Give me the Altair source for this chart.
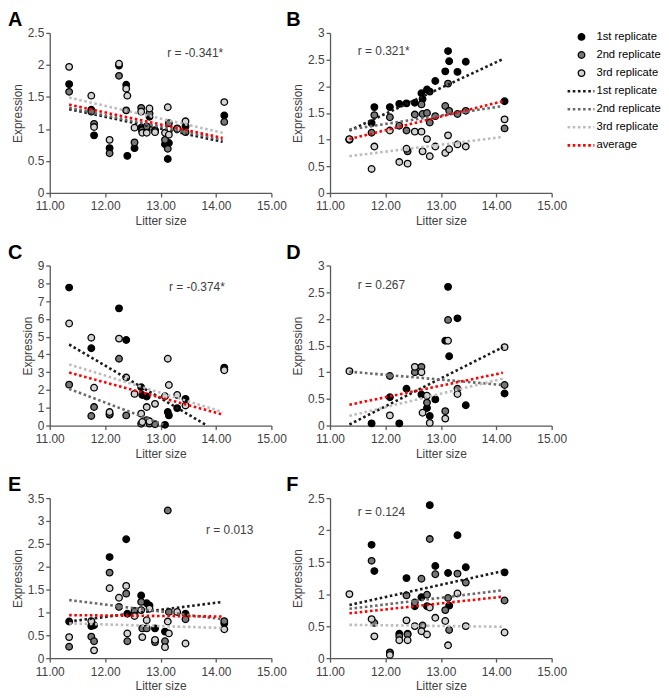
import altair as alt
import pandas as pd

FONT = "Liberation Sans"
TXT = "#404040"
AXC = "#595959"

# litter size (x) of each animal group
X = [11.35, 11.75, 11.80, 12.08, 12.25, 12.38, 12.40, 12.53, 12.65, 12.67,
     12.75, 12.80, 12.90, 13.08, 13.13, 13.15, 13.30, 13.45, 14.15]
X_TICKS = [11, 12, 13, 14, 15]

REPS = ["1st replicate", "2nd replicate", "3rd replicate"]
POINT_FILLS = ["#000000", "#777777", "#d3d3d3"]
LINE_SERIES = ["1st replicate ", "2nd replicate ", "3rd replicate ", "average"]
LINE_COLORS = ["#1a1a1a", "#6a6a6a", "#bdbdbd", "#ff0000"]

N = None
# Panel A
A_R1 = [1.70, 1.30, 0.90, 0.70, 1.99, 1.69, 0.58, 0.70, 1.02, 0.97, 0.99, 1.19, 0.98, 0.76, 0.53, 0.78, 1.00, 1.04, 1.21]
A_R2 = [1.58, 1.27, 1.08, 0.62, 1.83, 1.29, N, 0.79, 1.33, 0.98, 1.04, 1.24, 0.97, 0.83, 0.69, 1.09, 1.01, 0.95, 1.11]
A_R3 = [1.97, 1.52, 1.03, 0.83, 2.02, 1.63, 1.52, 1.02, 1.27, 0.94, 0.94, 1.32, 0.95, 0.94, 1.34, 0.91, 1.00, 1.12, 1.42]
# Panel B
B_R1 = [1.00, 1.31, 1.61, 1.61, 1.67, 1.68, N, 1.69, 1.87, 1.76, 1.94, 1.90, 2.10, 2.28, 2.66, 2.47, 2.27, 2.46, 1.72]
B_R2 = [1.00, 1.13, 1.46, 1.42, 1.26, 1.17, 0.78, 1.47, 1.66, 1.48, 1.50, 1.32, 1.44, 1.63, 2.05, 1.54, 1.48, 1.54, 1.21]
B_R3 = [1.01, 0.45, 0.87, 1.17, 0.58, 0.83, 0.55, 1.15, 1.15, 0.78, 1.01, 0.69, 0.87, 0.75, 1.08, 0.82, 0.91, 0.87, 1.38]
# Panel C
C_R1 = [7.76, 4.35, N, 0.61, 6.59, 4.81, N, N, 2.15, 1.72, 1.63, 0.20, N, 0.04, 0.76, 0.57, 0.98, 1.50, 3.26]
C_R2 = [2.30, 0.54, 1.04, 0.65, 3.76, 0.57, N, N, 0.10, N, 0.30, 0.11, 0.07, N, N, N, N, N, 3.17]
C_R3 = [5.74, 4.94, 2.13, 0.76, 4.89, 2.70, N, 1.78, 0.67, 0.20, 1.04, 0.24, 1.22, 1.65, 3.76, 2.28, 1.72, 1.13, 3.11]
# Panel D
D_R1 = [N, 0.04, N, 0.53, 0.04, 0.69, N, N, 0.58, N, 0.33, 0.18, 0.49, 1.59, 2.60, 1.30, 2.01, 0.38, 0.60]
D_R2 = [N, N, N, 0.93, N, N, N, 1.00, 1.10, N, 0.43, N, N, 0.27, 1.98, N, 0.69, N, 0.76]
D_R3 = [1.02, N, N, 0.19, N, N, N, 1.10, 1.00, 0.24, 0.56, 0.05, N, 0.13, 1.59, N, 0.59, N, 1.47]
# Panel E
E_R1 = [0.80, 0.70, 0.72, 2.21, N, 2.60, 0.97, N, 1.37, N, 1.20, 1.15, 0.65, 0.58, N, N, N, 0.97, 0.76]
E_R2 = [0.25, 0.47, 0.37, 1.87, 1.12, 1.41, 0.37, 1.03, 1.23, 0.65, 0.65, N, 0.35, 0.37, 3.23, 1.01, N, 0.85, 0.81]
E_R3 = [0.46, 0.81, 0.17, 1.53, 1.32, 1.58, 0.54, 0.92, 1.05, 0.46, 0.83, 1.08, 0.40, 0.24, 0.80, 0.54, 1.01, 0.32, 0.63]
# Panel F
F_R1 = [N, 1.77, 1.36, 0.09, 0.38, 1.25, 0.38, 0.81, 0.95, N, 0.81, 2.39, 1.44, N, 1.33, 0.82, 1.92, 1.42, 1.34]
F_R2 = [N, 1.52, 0.55, 0.08, 0.34, 0.98, 0.37, 0.87, 1.24, 0.51, 0.99, 1.86, 1.31, 0.75, 0.94, 0.44, 1.32, 1.18, 0.90]
F_R3 = [1.00, 0.61, 0.34, 0.05, 0.28, 0.59, 0.28, 0.50, 0.42, N, 0.37, 0.79, 0.63, 0.58, 0.20, N, 1.01, 0.50, 0.40]

# trend lines: [x0, y0, x1, y1] for 1st, 2nd, 3rd replicate, average
A_LINES = [[11.35, 1.31, 14.12, 0.80], [11.35, 1.33, 14.12, 0.83], [11.35, 1.49, 14.12, 0.94], [11.35, 1.38, 14.12, 0.86]]
B_LINES = [[11.35, 1.17, 14.12, 2.51], [11.35, 1.19, 14.12, 1.63], [11.35, 0.69, 14.12, 1.05], [11.35, 1.01, 14.12, 1.72]]
C_LINES = [[11.35, 4.56, 13.84, 0.00], [11.35, 2.06, 13.10, 0.00], [11.35, 3.44, 14.12, 0.76], [11.35, 2.98, 14.12, 0.62]]
D_LINES = [[11.35, 0.02, 14.12, 1.47], [11.35, 1.01, 14.12, 0.76], [11.35, 0.18, 14.12, 0.88], [11.35, 0.39, 14.12, 0.99]]
E_LINES = [[11.35, 0.80, 14.12, 1.23], [11.35, 1.27, 14.12, 0.85], [11.35, 0.76, 14.12, 0.66], [11.35, 0.94, 14.12, 0.91]]
F_LINES = [[11.35, 0.83, 14.12, 1.36], [11.35, 0.77, 14.12, 1.06], [11.35, 0.52, 14.12, 0.49], [11.35, 0.70, 14.12, 0.96]]

R_TEXT = ["r = -0.341*", "r = 0.321*", "r = -0.374*", "r = 0.267", "r = 0.013", "r = 0.124"]
R_X = [13.12, 11.50, 13.15, 11.50, 13.82, 11.50]
R_Y = [2.19, 2.67, 7.78, 2.63, 2.81, 2.28]

Y_MAX = [2.5, 3, 9, 3, 3.5, 2.5]
Y_TICKS = [
    [0, 0.5, 1, 1.5, 2, 2.5],
    [0, 0.5, 1, 1.5, 2, 2.5, 3],
    [0, 1, 2, 3, 4, 5, 6, 7, 8, 9],
    [0, 0.5, 1, 1.5, 2, 2.5, 3],
    [0, 0.5, 1, 1.5, 2, 2.5, 3, 3.5],
    [0, 0.5, 1, 1.5, 2, 2.5],
]
LETTERS = ["A", "B", "C", "D", "E", "F"]
REP_DATA = [(A_R1, A_R2, A_R3), (B_R1, B_R2, B_R3), (C_R1, C_R2, C_R3),
            (D_R1, D_R2, D_R3), (E_R1, E_R2, E_R3), (F_R1, F_R2, F_R3)]
LINES = [A_LINES, B_LINES, C_LINES, D_LINES, E_LINES, F_LINES]

# legend entries (shown beside panel B)
LEG_LABELS = REPS + LINE_SERIES
LEG_INDEX = [0, 1, 2, 3, 4, 5, 6]

W, H = 223, 161
PT_SIZE = 44


def fill_scale():
    return alt.Scale(domain=REPS, range=POINT_FILLS)


def panel(i, dx):
    rows = []
    for rep, vals in zip(REPS, REP_DATA[i]):
        for xv, yv in zip(X, vals):
            if yv is not None:
                rows.append({"x": xv, "y": yv, "rep": rep})
    pts = pd.DataFrame(rows)

    def xenc():
        return alt.X("x:Q", scale=alt.Scale(domain=[11, 15], nice=False, zero=False),
                     axis=alt.Axis(values=X_TICKS, format=".2f", title="Litter size",
                                   labelFlush=False, labelPadding=4, titlePadding=4))

    def yenc():
        return alt.Y("y:Q", scale=alt.Scale(domain=[0, Y_MAX[i]], nice=False, zero=True),
                     axis=alt.Axis(values=Y_TICKS[i], format=".1~f", title="Expression"))

    layers = [
        alt.Chart(pts).mark_point(shape="circle", filled=True, size=PT_SIZE, opacity=1,
                                  stroke="black", strokeWidth=1.3).encode(
            x=xenc(), y=yenc(),
            fill=alt.Fill("rep:N", scale=fill_scale(), legend=None))
    ]
    for col, seg in zip(LINE_COLORS, LINES[i]):
        ldf = pd.DataFrame({"x": [seg[0], seg[2]], "y": [seg[1], seg[3]]})
        layers.append(alt.Chart(ldf).mark_line(color=col, strokeWidth=2.6, strokeDash=[2.6, 2.6],
                                               strokeCap="butt").encode(x=xenc(), y=yenc()))
    tdf = pd.DataFrame({"x": [R_X[i]], "y": [R_Y[i]], "t": [R_TEXT[i]]})
    layers.append(alt.Chart(tdf).mark_text(align="left", baseline="middle", fontSize=12,
                                           font=FONT, color=TXT).encode(x=xenc(), y=yenc(), text="t:N"))
    # panel letter
    ldf = pd.DataFrame({"t": [LETTERS[i]]})
    layers.append(alt.Chart(ldf).mark_text(align="left", baseline="alphabetic", fontSize=20,
                                           fontWeight="bold", font=FONT, color="black").encode(
        x=alt.value(dx), y=alt.value(-7), text="t:N"))
    main = alt.layer(*layers)
    if i == 1:
        leg = pd.DataFrame({"idx": LEG_INDEX, "label": LEG_LABELS})
        ly = alt.Y("idx:Q", scale=alt.Scale(domain=[-0.22, 8.63], reverse=True, nice=False, zero=False),
                   axis=None)
        leg_pts = alt.Chart(leg.iloc[:3]).mark_point(shape="circle", filled=True, size=PT_SIZE, opacity=1,
                                                     stroke="black", strokeWidth=1.3).encode(
            x=alt.value(W + 30), y=ly,
            fill=alt.Fill("label:N", scale=fill_scale(), legend=None))
        leg_lines = alt.Chart(leg.iloc[3:]).mark_rule(strokeWidth=2.6, strokeDash=[2.6, 2.6],
                                                      strokeCap="butt").encode(
            x=alt.value(W + 16), x2=alt.value(W + 43), y=ly,
            color=alt.Color("label:N", scale=alt.Scale(domain=LINE_SERIES, range=LINE_COLORS), legend=None))
        leg_text = alt.Chart(leg).mark_text(align="left", baseline="middle", fontSize=11.3, font=FONT,
                                            color="black").encode(x=alt.value(W + 45), y=ly, text="label:N")
        main = alt.layer(main, alt.layer(leg_pts, leg_lines, leg_text)).resolve_scale(y="independent")
    return main.properties(width=W, height=H)


panels = [panel(i, -42 if i % 2 == 0 else -44) for i in range(6)]

chart = alt.concat(*panels, columns=2, bounds="flush",
                   spacing=alt.RowColnumber(row=73, column=59)).properties(
    padding={"left": 0, "top": 0, "right": 0, "bottom": 0}
).configure_view(stroke=None).configure_axis(
    grid=False, domainColor=AXC, tickColor=AXC, domainWidth=1.3, tickWidth=1.3, tickSize=4,
    labelColor=TXT, titleColor=TXT, labelFont=FONT, titleFont=FONT, labelFontSize=12,
    titleFontSize=12, titleFontWeight="normal", labelPadding=2, titlePadding=3,
    labelOverlap=False
)

chart.save("out.html", embed_options={"renderer": "svg", "actions": False})
